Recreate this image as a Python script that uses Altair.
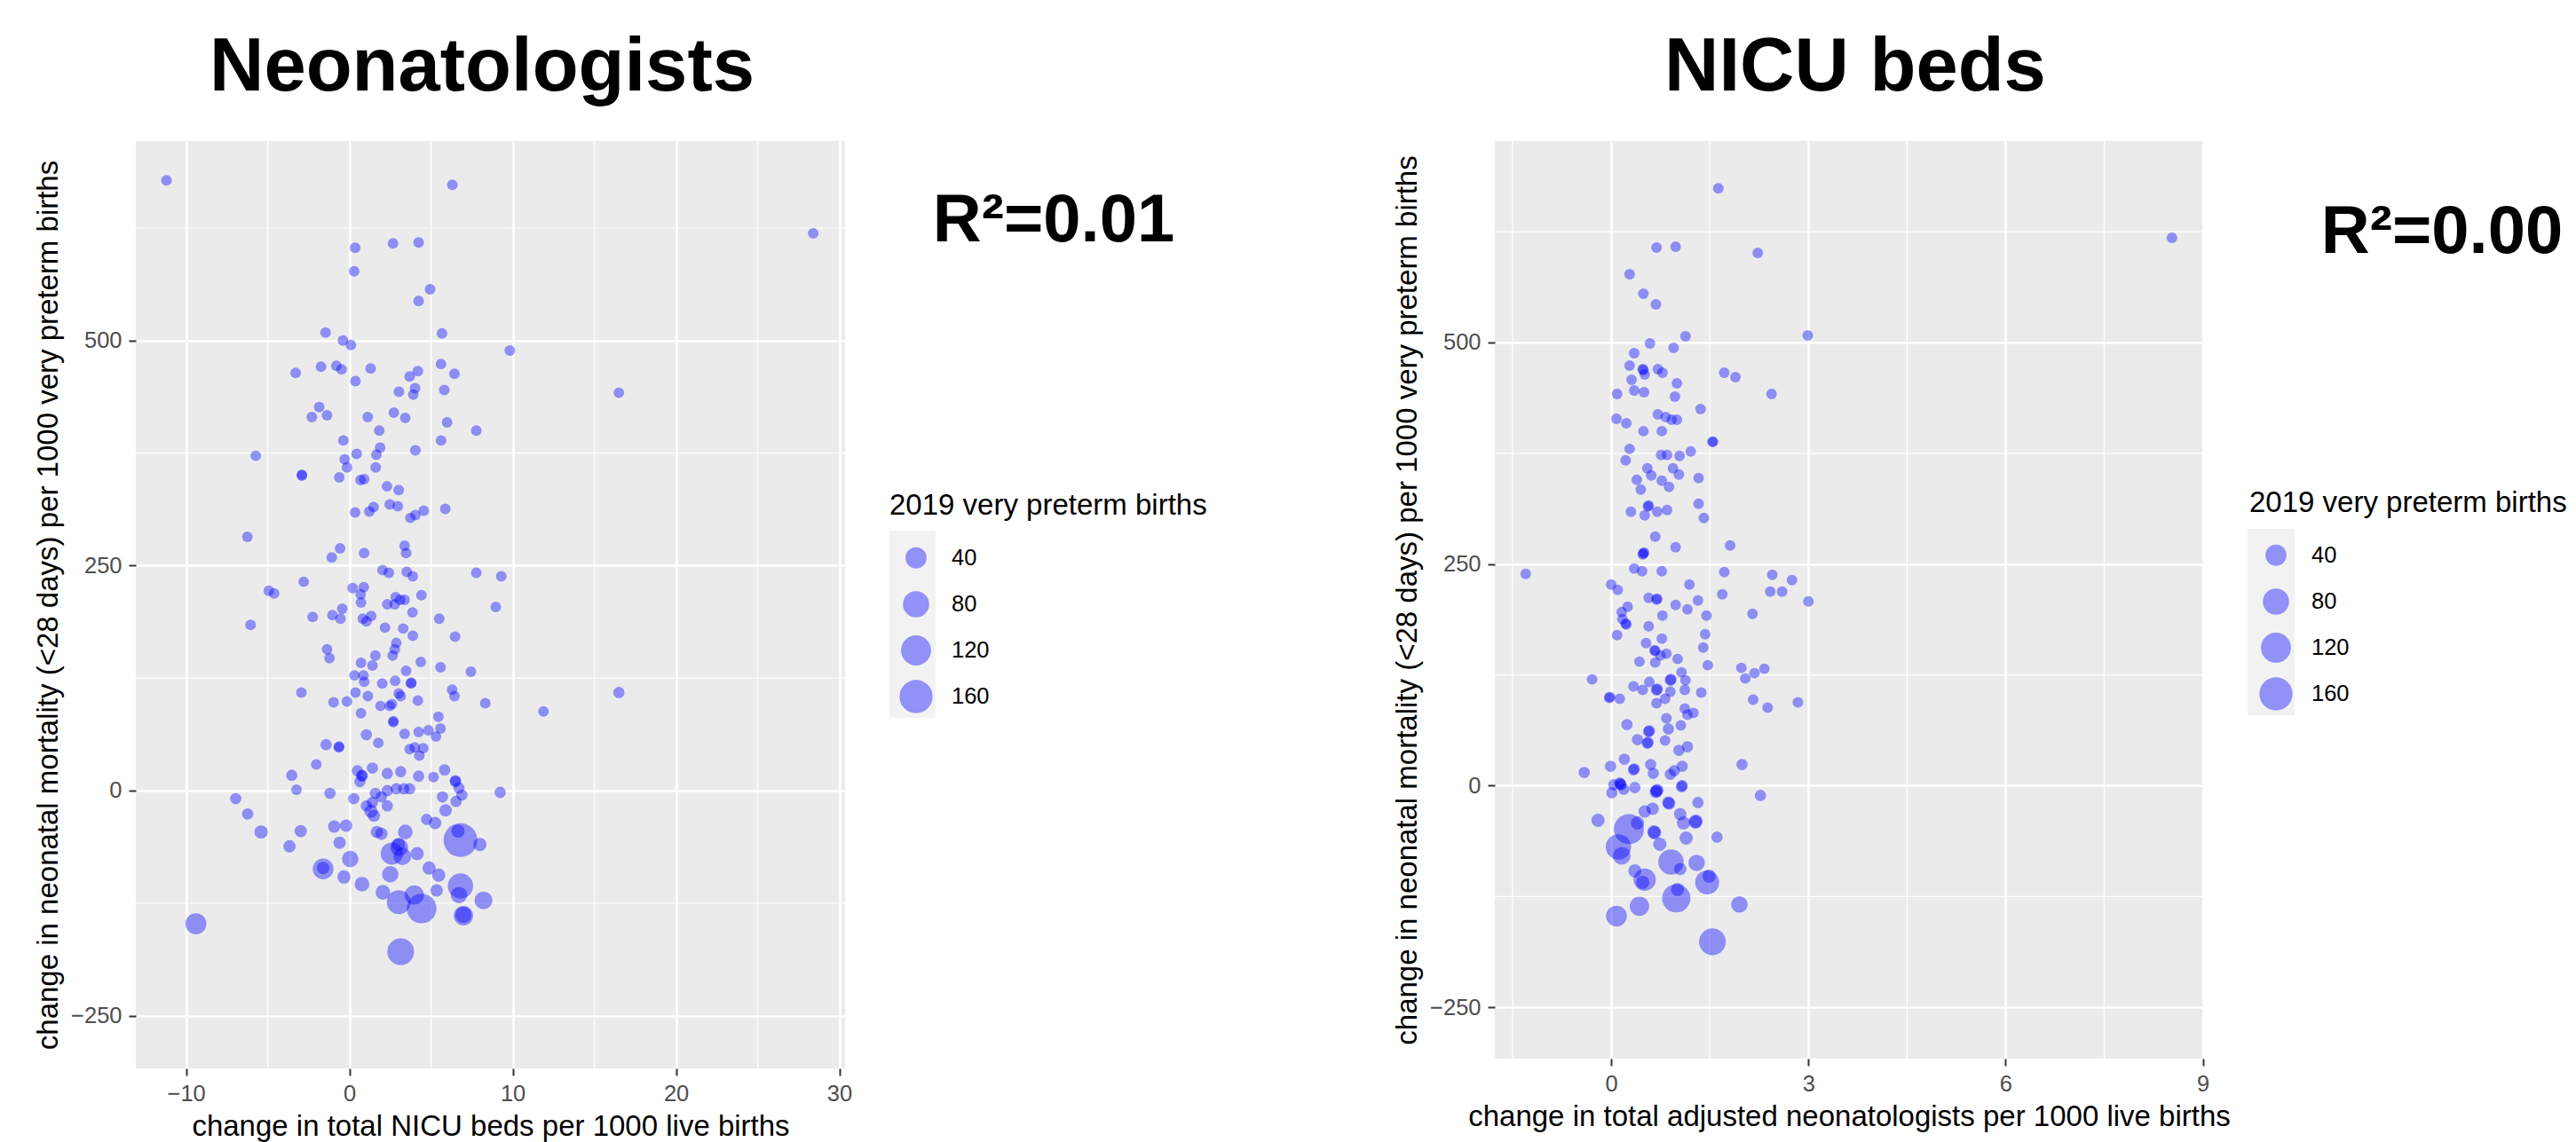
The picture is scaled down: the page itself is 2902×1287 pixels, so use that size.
import altair as alt
import pandas as pd

FONT = "Liberation Sans"
BLUE = "#0000FF"
Y_TITLE = "change in neonatal mortality (<28 days) per 1000 very preterm births"
SIZE_TITLE = "2019 very preterm births"
Y_TICKS = [-250, 0, 250, 500]
Y_MINOR = [-125, 125, 375, 625]
SIZE_BREAKS = [40, 80, 120, 160]

# ---------------- left panel: change in NICU beds ----------------
beds_x = [
    0.35, 2.67, 4.24, 0.29, 4.94, 4.24, -1.46, 5.67, -0.40, 0.09,
    9.82, -3.29, -1.74, -0.80, -0.48, 1.30, 0.37, 5.61, 4.19, 3.69,
    6.43, 3.03, 4.02, 3.91, 5.81, -1.85, -2.30, -1.37, 1.12, 2.72,
    3.42, 1.83, 5.98, 7.77, -0.37, 5.61, -5.74, 1.88, 0.44, 1.65,
    4.04, -0.29, -0.15, 1.61, -2.91, -2.91, -0.62, 0.68, 0.90, 2.30,
    3.02, 2.47, 2.96, 0.35, 1.22, 1.48, 3.73, 4.04, 4.55, 5.87,
    -6.25, 3.38, 3.47, -0.57, -1.08, 0.90, 2.03, 2.41, 3.51, 3.88,
    7.77, 9.30, -2.80, -4.94, -4.61, 0.20, 0.88, 0.69, 0.71, 2.83,
    3.11, 3.38, 2.32, 2.78, 4.41, 8.96, -0.44, -1.04, -0.55, -2.25,
    3.86, 5.50, 0.82, 1.33, 1.04, -6.05, 2.18, 3.29,
    -11.2, 6.3, 28.4, 16.5, 16.5, -9.4,
    3.88, 6.47, 2.87, 2.78, 2.65, -1.37, -1.22, 1.59, 0.71, 1.41,
    0.31, 0.86, 0.90, 4.37, 3.47, 5.58, 7.44, 2.01, 2.80, 3.78,
    3.78, -2.94, 0.37, 1.13, 3.02, 3.14, 6.29, 6.43, -0.97, -0.15,
    0.71, 1.90, 2.47, 2.60, 4.19, 8.32, 11.88, 2.69, 2.69, 5.45,
    1.04, 1.77, 3.38, 4.24, 4.84, 5.58, 5.30, -1.43, -0.64, -0.64,
    3.69, 4.00, 4.52, 4.28, -2.03, -3.53, -3.24, 0.49, 0.77, 0.77,
    0.64, 1.41, 2.32, 3.14, 4.24, 5.15, 5.83, 6.49, 6.49, 6.71,
    9.23, -6.96, -6.23, -5.41, -1.19, 0.27, 1.59, 2.32, 2.87, 3.33,
    3.69, 1.96, 1.41, 1.32, 1.50, 2.32, 5.70, 6.89, 6.53, 5.89,
    4.73, 5.25, -2.98, -3.67, -0.93, -0.20, -0.60, 0.05, -1.61, -1.61,
    -0.33, 0.77, 1.68, 1.96, 3.42, 2.60, 3.05, 3.24, 4.15, 2.50,
    2.05, 3.02, 3.97, 4.42, 4.88, 5.47, 5.34, 6.80, 6.65, 7.99,
    6.80, 6.71, 6.98, 6.98, 8.21, 3.14, 1.04, 3.00,
]
beds_y = [
    603, 608, 609, 577, 557, 544, 509, 508, 500, 495,
    489, 464, 471, 472, 468, 469, 455, 474, 466, 460,
    463, 443, 447, 440, 445, 426, 415, 417, 415, 420,
    414, 400, 409, 400, 389, 389, 372, 381, 374, 373,
    378, 368, 359, 359, 350, 351, 348, 345, 346, 338,
    334, 318, 316, 309, 310, 315, 303, 306, 311, 313,
    282, 272, 264, 269, 259, 264, 245, 242, 243, 238,
    242, 238, 232, 222, 219, 225, 226, 218, 209, 215,
    212, 212, 207, 207, 217, 204, 202, 195, 191, 193,
    198, 191, 191, 194, 188, 184, 181, 180,
    678, 673, 619, 442, 109, -148,
    172, 171, 164, 157, 150, 157, 147, 150, 142, 139,
    128, 128, 121, 143, 133, 137, 132, 119, 122, 119,
    120, 109, 109, 105, 108, 105, 112, 105, 98, 99,
    86, 94, 94, 96, 100, 97, 88, 77, 76, 82,
    62, 53, 63, 65, 67, 69, 60, 51, 48, 49,
    46, 48, 47, 39, 29, 17, 1, 22, 17, 16,
    10, 25, 19, 21, 16, 15, 23, 10, 11, 3,
    -2, -9, -26, -46, -3, -9, -3, 0, 2, 2,
    2, -7, -13, -23, -28, -17, -7, -5, -12, -22,
    -32, -36, -45, -62, -40, -39, -58, -76, -87, -86,
    -96, -104, -46, -48, -46, -70, -63, -73, -70, -93,
    -113, -124, -116, -131, -86, -94, -111, -55, -45, -60,
    -106, -116, -139, -138, -122, -179, -17, -60,
]
beds_n = [
    1, 1, 1, 1, 1, 1, 1, 1, 1, 1,
    1, 1, 1, 1, 1, 1, 1, 1, 1, 1,
    1, 1, 1, 1, 1, 1, 1, 1, 1, 1,
    1, 1, 1, 1, 1, 1, 1, 1, 1, 1,
    1, 1, 1, 1, 1, 1, 1, 1, 1, 1,
    1, 1, 1, 1, 1, 1, 1, 1, 1, 1,
    1, 1, 1, 1, 1, 1, 1, 1, 1, 1,
    1, 1, 1, 1, 1, 1, 1, 1, 1, 1,
    1, 1, 1, 1, 1, 1, 1, 1, 1, 1,
    1, 1, 1, 1, 1, 1, 1, 1,
    1, 1, 1, 1, 2, 40,
    1, 1, 1, 1, 1, 1, 1, 1, 1, 1,
    1, 1, 1, 1, 1, 1, 1, 1, 1, 1,
    1, 1, 1, 1, 1, 1, 1, 1, 1, 1,
    1, 1, 1, 1, 1, 1, 1, 1, 1, 1,
    2, 1, 1, 1, 1, 1, 1, 2, 1, 1,
    1, 1, 1, 1, 1, 2, 1, 2, 2, 2,
    2, 2, 2, 2, 2, 1, 2, 2, 2, 2,
    2, 2, 2, 6, 2, 2, 2, 2, 2, 2,
    2, 2, 2, 6, 4, 2, 2, 2, 2, 4,
    2, 4, 4, 4, 4, 4, 4, 16, 38, 4,
    6, 10, 4, 4, 10, 48, 22, 22, 6, 16,
    10, 60, 30, 116, 6, 6, 4, 170, 6, 6,
    72, 16, 30, 16, 22, 85, 2, 6,
]

# ---------------- right panel: change in neonatologists ----------------
neo_x = [
    1.63, 0.69, 0.98, 2.23, 0.28, 0.49, 0.68, 1.13, 2.99, 0.59,
    0.95, 0.35, 0.28, 0.48, 0.49, 0.51, 0.71, 0.78, 1.72, 1.89,
    0.31, 1.00, 0.09, 0.35, 0.50, 0.97, 2.44, 1.36, 0.08, 0.23,
    0.71, 0.83, 0.92, 1.00, 0.49, 0.77, 1.54, 1.55, 0.28, 0.22,
    0.76, 0.85, 1.04, 1.21, 0.55, 0.94, 0.61, 1.03, 1.33, 0.39,
    0.77, 0.88, 0.45, 0.56, 0.57, 0.30, 0.51, 0.70, 0.85, 1.33,
    1.41, 0.67, 0.98, 1.81, 0.49, 0.50, 0.48, 0.35, 0.47, 0.77,
    1.72, 2.45, 2.75, 0.00, 1.19, -1.30, 8.53,
    0.10, 1.69, 2.42, 2.60, 3.00, 0.57, 0.69, 0.70, 0.98, 1.16,
    1.32, 0.78, 1.45, 2.15, 0.16, 0.25, 0.17, 0.22, 0.23, 0.09,
    0.57, 1.43, 0.77, 0.53, 0.66, 0.67, 0.75, 0.43, 0.67, 0.84,
    1.01, 1.40, 1.47, 1.98, 2.04, 2.18, 2.33, 1.07, 1.13, 1.12,
    -0.29, 0.34, 0.58, 0.69, 0.70, 0.90, 0.91, 0.90, 0.48, 1.37,
    -0.03, -0.02, 0.13, 0.69, 0.82, 2.16, 2.38, 2.84, 1.12, 1.25,
    1.16, 0.24, 0.84, 1.06, 0.87, 0.57, 0.58, 0.40, 0.55, 0.56,
    0.82, 1.03, 1.16, 1.99, 0.20, -0.01, -0.41, 0.34, 0.35, 0.60,
    0.64, 0.90, 0.96, 1.08, 0.14, 0.15, 0.13, 0.04, 0.01, 0.19,
    0.36, 0.69, 0.70, 0.68, 1.07, 1.08, 0.87, 0.88, 1.32, 2.27,
    -0.20, 0.51, 0.63, 0.65, 0.66, 0.74, 0.40, 0.27, 1.05, 1.10,
    1.28, 1.29, 1.14, 1.61, 0.11, 0.16, 0.36, 0.51, 0.48, 0.91,
    1.05, 1.30, 1.49, 1.46, 0.99, 1.01, 0.08, 0.43, 1.95, 1.54,
]
neo_y = [
    674, 607, 608, 601, 577, 555, 543, 507, 508, 499,
    494, 488, 474, 470, 469, 464, 470, 466, 466, 461,
    458, 454, 442, 446, 444, 439, 442, 425, 414, 409,
    419, 416, 413, 413, 400, 400, 388, 388, 380, 367,
    373, 373, 372, 377, 358, 358, 350, 351, 347, 345,
    344, 337, 334, 315, 316, 309, 305, 309, 311, 318,
    302, 281, 269, 271, 262, 263, 261, 245, 242, 242,
    241, 238, 232, 227, 227, 239, 618,
    221, 216, 219, 219, 208, 212, 210, 211, 204, 199,
    209, 192, 192, 194, 196, 202, 188, 183, 182, 170,
    180, 171, 166, 161, 153, 152, 147, 140, 139, 149,
    143, 156, 136, 133, 121, 127, 132, 128, 119, 108,
    120, 112, 117, 108, 109, 119, 120, 106, 108, 105,
    99, 100, 98, 93, 98, 97, 88, 94, 87, 82,
    80, 69, 76, 68, 64, 61, 62, 52, 48, 49,
    51, 40, 44, 24, 30, 22, 15, 18, 19, 24,
    14, 13, 17, 22, 2, 1, 3, 1, -8, -4,
    -2, -6, -5, -7, -1, 0, -19, -20, -19, -11,
    -39, -29, -26, -52, -53, -66, -42, -49, -32, -42,
    -41, -40, -59, -58, -69, -79, -96, -106, -109, -86,
    -94, -87, -102, -109, -127, -117, -147, -136, -134, -176,
]
neo_n = [
    1, 1, 1, 1, 1, 1, 1, 1, 1, 1,
    1, 1, 1, 1, 1, 1, 1, 1, 1, 1,
    1, 1, 1, 1, 1, 1, 1, 1, 1, 1,
    1, 1, 1, 1, 1, 1, 1, 1, 1, 1,
    1, 1, 1, 1, 1, 1, 1, 1, 1, 1,
    1, 1, 1, 1, 1, 1, 1, 1, 1, 1,
    1, 1, 1, 1, 1, 1, 1, 1, 1, 1,
    1, 1, 1, 1, 1, 1, 1,
    1, 1, 1, 1, 1, 1, 1, 1, 1, 1,
    1, 1, 1, 1, 1, 1, 1, 1, 1, 1,
    1, 1, 1, 1, 1, 1, 1, 1, 1, 1,
    1, 1, 1, 1, 1, 1, 1, 1, 1, 1,
    1, 1, 1, 2, 2, 2, 2, 1, 1, 1,
    1, 1, 1, 1, 1, 1, 1, 1, 1, 1,
    1, 2, 1, 1, 2, 2, 2, 2, 2, 2,
    1, 2, 2, 2, 2, 2, 2, 2, 2, 2,
    2, 2, 2, 2, 2, 2, 2, 2, 2, 2,
    2, 4, 4, 4, 2, 2, 4, 4, 2, 2,
    6, 4, 4, 6, 6, 6, 6, 120, 4, 6,
    6, 6, 6, 2, 72, 22, 6, 48, 6, 72,
    4, 16, 6, 60, 100, 6, 38, 30, 16, 85,
]

beds_ticks = [-10, 0, 10, 20, 30]
beds_minor = [-5, 5, 15, 25]
neo_ticks = [0, 3, 6, 9]
neo_minor = [-1.5, 1.5, 4.5, 7.5]

AXIS_COMMON = dict(
    labelFont=FONT, labelFontSize=25.5, labelColor="#4D4D4D",
    titleFont=FONT, titleFontSize=33, titleFontWeight="normal", titleColor="black",
    tickColor="#333333", tickSize=8, tickWidth=2, domain=False,
    grid=True, gridColor="white", gridWidth=2.6, format="d",
    labelPadding=8, titlePadding=8, labelFlush=False, labelOverlap=False,
)


def make_panel(xs, ys, ns, xdomain, ydomain, xticks, xminor, width, height,
               xtitle, heading, heading_x, r2, r2_x, r2_y, legend_x, legend_y, box):
    df = pd.DataFrame({"x": xs, "y": ys, "n": ns})
    one = pd.DataFrame({"k": [0]})
    xscale = alt.Scale(domain=xdomain, nice=False, zero=False)
    yscale = alt.Scale(domain=ydomain, nice=False, zero=False)
    x_axis = alt.Axis(values=xticks, title=xtitle, **AXIS_COMMON)
    y_axis = alt.Axis(values=Y_TICKS, title=Y_TITLE, **AXIS_COMMON)

    vgrid = alt.Chart(pd.DataFrame({"x": xminor})).mark_rule(
        color="white", strokeWidth=1.2).encode(
        x=alt.X("x:Q", scale=xscale, axis=x_axis))
    hgrid = alt.Chart(pd.DataFrame({"y": Y_MINOR})).mark_rule(
        color="white", strokeWidth=1.2).encode(
        y=alt.Y("y:Q", scale=yscale, axis=y_axis))
    key_box = alt.Chart(one).mark_rect(color="#F2F2F2").encode(
        x=alt.value(box[0]), x2=alt.value(box[1]),
        y=alt.value(box[2]), y2=alt.value(box[3]))

    pts = alt.Chart(df).mark_circle(color=BLUE, opacity=0.4).encode(
        x=alt.X("x:Q", scale=xscale, axis=x_axis),
        y=alt.Y("y:Q", scale=yscale, axis=y_axis),
        size=alt.Size(
            "n:Q",
            scale=alt.Scale(type="pow", exponent=0.75, domain=[0, 160], range=[115, 1392]),
            legend=alt.Legend(
                orient="none", legendX=legend_x, legendY=legend_y,
                values=SIZE_BREAKS, title=SIZE_TITLE,
                titleFont=FONT, titleFontSize=33, titleFontWeight="normal",
                titleColor="black", titlePadding=29, titleLimit=2000,
                labelFont=FONT, labelFontSize=25.5, labelColor="black",
                labelOffset=21, rowPadding=12, padding=0, gridAlign="all",
                symbolOffset=11,
                symbolFillColor=BLUE, symbolOpacity=0.4, symbolStrokeWidth=0,
                symbolType="circle",
            ),
        ),
    )
    head = alt.Chart(one).mark_text(
        font=FONT, fontSize=85, fontWeight="bold", color="black",
        align="center", baseline="alphabetic").encode(
        x=alt.value(heading_x), y=alt.value(-57), text=alt.value(heading))
    r2_text = alt.Chart(one).mark_text(
        font=FONT, fontSize=76, fontWeight="bold", color="black",
        align="center", baseline="alphabetic").encode(
        x=alt.value(r2_x), y=alt.value(r2_y), text=alt.value(r2))
    return alt.layer(vgrid, hgrid, key_box, pts, head, r2_text).properties(
        width=width, height=height)


left = make_panel(beds_x, beds_y, beds_n, [-13.08, 30.35], [-308.6, 721.6],
                  beds_ticks, beds_minor, 799, 1045,
                  "change in total NICU beds per 1000 live births",
                  "Neonatologists", 390, "R²=0.01", 1034, 113,
                  849, 395, (849, 901, 439, 650))
right = make_panel(neo_x, neo_y, neo_n, [-1.77, 9.005], [-307.8, 727.2],
                   neo_ticks, neo_minor, 798, 1034,
                   "change in total adjusted neonatologists per 1000 live births",
                   "NICU beds", 406, "R²=0.00", 1067, 126,
                   850, 392, (848, 901, 437, 647))

chart = alt.hconcat(left, right, spacing=732, bounds="flush").resolve_scale(
    x="independent", y="independent", size="independent"
).resolve_legend(size="independent").configure_view(
    fill="#EBEBEB", stroke=None
).properties(
    padding={"left": 30, "top": 26, "right": 0, "bottom": 0},
    background="white",
)

chart.save("out.html", embed_options={"renderer": "svg", "actions": False})
